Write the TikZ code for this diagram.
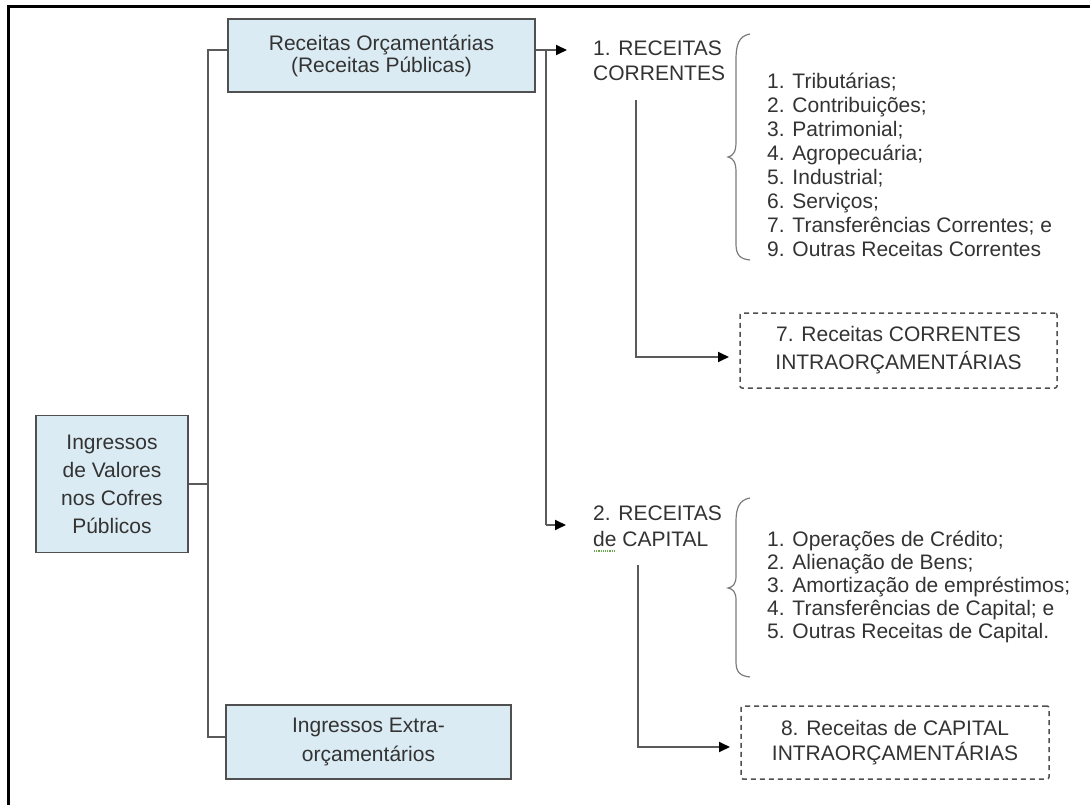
\documentclass[tikz,border=0pt]{standalone}
\usepackage{fontspec}
\setmainfont{Liberation Sans}
\usetikzlibrary{arrows.meta,calc}
\definecolor{boxfill}{HTML}{DBEBF3}
\definecolor{boxline}{HTML}{505050}
\definecolor{connc}{HTML}{5A5A5A}
\definecolor{txt}{HTML}{333333}
\definecolor{spell}{HTML}{6AA84F}
\tikzset{
  box/.style={draw=boxline, fill=boxfill, line width=1.6pt, align=center, inner sep=0pt, text=txt},
  dbox/.style={draw=boxline, fill=white, line width=1.5pt, dash pattern=on 5pt off 4pt, rounded corners=2pt, align=center, inner sep=0pt, text=txt},
  lbl/.style={align=left, inner sep=0pt, text=txt},
  conn/.style={draw=connc, line width=1.8pt},
  arr/.style={draw=connc, line width=1.8pt, -{Triangle[length=11pt,width=10pt,color=black]}},
  bracestyle/.style={draw=connc!80, line width=1.2pt}
}
\begin{document}
\begin{tikzpicture}[x=1pt,y=-1pt]
\useasboundingbox (0,0) rectangle (1090,805);
\fill[white] (0,0) rectangle (1090,805);
% frame
\draw[black, line width=3pt] (1090,6.5) -- (8.5,6.5) -- (8.5,805);

% boxes
\node[box, minimum width=307pt, minimum height=73pt, font=\fontsize{21}{22}\selectfont] (ro) at (381.5,55.5) {Receitas Orçamentárias\\(Receitas Públicas)};
\node[box, minimum width=152pt, minimum height=137pt, font=\fontsize{21}{28}\selectfont] (iv) at (112,484) {Ingressos\\de Valores\\nos Cofres\\Públicos};
\node[box, minimum width=285pt, minimum height=74pt, font=\fontsize{21}{29}\selectfont] (ie) at (368.5,742) {Ingressos Extra-\\orçamentários};

% trunk
\coordinate (tt) at (208,50);
\coordinate (tb) at (208,737);
\draw[conn] (tt -| ro.west) -- (tt) -- (tb) -- (tb -| ie.west);
\draw[conn] (iv.east) -- (iv.east -| tt);

% category labels
\node[lbl, anchor=west, font=\fontsize{21}{25}\selectfont] (rc1) at (593,61) {1. RECEITAS\\CORRENTES};
\node[lbl, anchor=west, font=\fontsize{21}{26}\selectfont] (rc2) at (593,526) {2. RECEITAS\\de CAPITAL};
\draw[spell, line width=1.2pt, densely dotted] (594,551) -- (615,551);

% right branch
\coordinate (r1) at (546,50);
\coordinate (r2) at (546,525);
\coordinate (a1) at (567,50);
\coordinate (a2) at (566,525);
\draw[arr] (r1 -| ro.east) -- (a1);
\draw[conn] (r1) -- (r2);
\draw[arr] (r2) -- (a2);

% lists
\node[lbl, anchor=west, font=\fontsize{21}{23.9}\selectfont] (l1) at (767,165) {1. Tributárias;\\2. Contribuições;\\3. Patrimonial;\\4. Agropecuária;\\5. Industrial;\\6. Serviços;\\7. Transferências Correntes; e\\9. Outras Receitas Correntes};
\node[lbl, anchor=west, font=\fontsize{21}{23}\selectfont] (l2) at (767,587) {1. Operações de Crédito;\\2. Alienação de Bens;\\3. Amortização de empréstimos;\\4. Transferências de Capital; e\\5. Outras Receitas de Capital.};

% braces
\draw[bracestyle] (750,34) .. controls (739,36) and (736,44) .. (736,60) -- (736,142) .. controls (736,152) and (733,156) .. (728,157) .. controls (733,158) and (736,162) .. (736,172) -- (736,244) .. controls (736,255) and (740,259) .. (750,260);
\draw[bracestyle] (750,498) .. controls (739,500) and (736,508) .. (736,522) -- (736,576) .. controls (736,584) and (733,587) .. (728,588) .. controls (733,589) and (736,592) .. (736,600) -- (736,662) .. controls (736,672) and (740,676) .. (750,677);

% intra boxes
\node[dbox, minimum width=317pt, minimum height=75pt, font=\fontsize{21}{28}\selectfont] (b7) at (898.5,350.5) {7. Receitas CORRENTES\\INTRAORÇAMENTÁRIAS};
\node[dbox, minimum width=308pt, minimum height=73pt, font=\fontsize{21}{25}\selectfont] (b8) at (895,742.5) {8. Receitas de CAPITAL\\INTRAORÇAMENTÁRIAS};

\coordinate (c1) at (636,100);
\coordinate (c2) at (638,565);
\coordinate (a3) at (729,357);
\coordinate (a4) at (730,747);
\draw[arr] (c1) |- (a3);
\draw[arr] (c2) |- (a4);
\end{tikzpicture}
\end{document}
